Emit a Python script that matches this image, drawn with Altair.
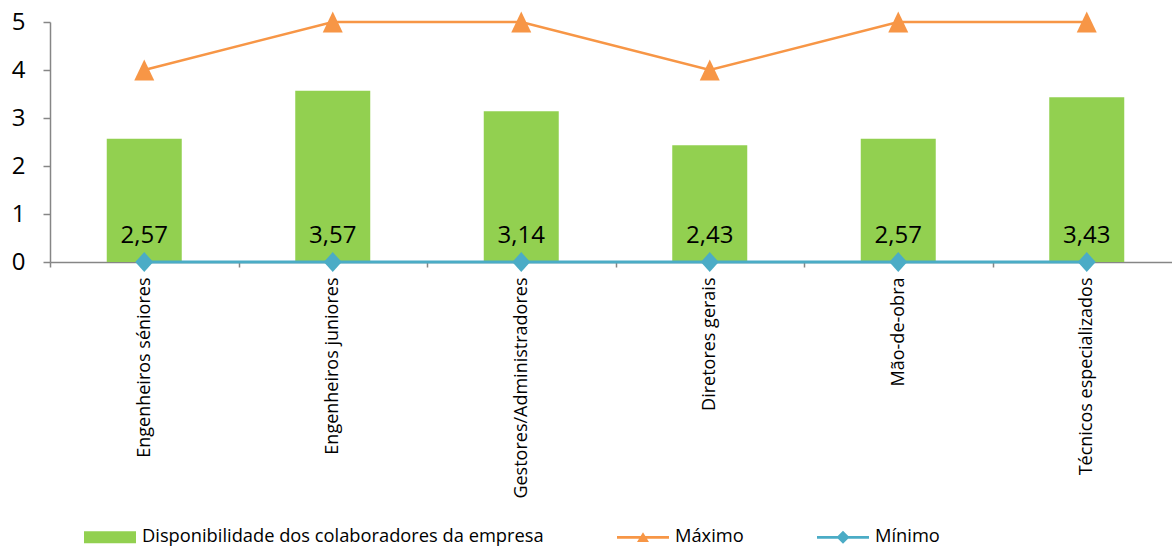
import altair as alt
import pandas as pd

categorias = ["Engenheiros séniores", "Engenheiros juniores", "Gestores/Administradores",
              "Diretores gerais", "Mão-de-obra", "Técnicos especializados"]
disponibilidade = [2.57, 3.57, 3.14, 2.43, 2.57, 3.43]
maximo = [4, 5, 5, 4, 5, 5]
minimo = [0, 0, 0, 0, 0, 0]
serie_nomes = ["Disponibilidade dos colaboradores da empresa", "Máximo", "Mínimo"]
serie_cores = ["#92D050", "#F79646", "#4BACC6"]
y_ticks = [0, 1, 2, 3, 4, 5]

FONT = "Open Sans"
GRAY = "#868686"

df_bar = pd.DataFrame({"cat": categorias, "valor": disponibilidade, "serie": serie_nomes[0]})
df_max = pd.DataFrame({"cat": categorias, "valor": maximo, "serie": serie_nomes[1]})
df_min = pd.DataFrame({"cat": categorias, "valor": minimo, "serie": serie_nomes[2]})

x_axis = alt.Axis(orient="bottom", title=None, labelAngle=270, tickBand="extent",
                  tickSize=5, tickColor=GRAY, tickWidth=1.5, domainColor=GRAY,
                  domainWidth=1.5, labelPadding=10, labelFontSize=18, labelFont=FONT,
                  labelColor="black", labelLimit=400, zindex=0)
x_scale = alt.Scale(range=[0, 1131], paddingInner=0, paddingOuter=0)
x_main = alt.X("cat:N", sort=categorias, scale=x_scale, axis=x_axis)

y_axis = alt.Axis(values=y_ticks, title=None, grid=False, tickSize=7, tickColor=GRAY,
                  tickWidth=1.5, domainColor=GRAY, domainWidth=1.5, labelFontSize=24,
                  labelFont=FONT, labelColor="black", labelPadding=18, zindex=0)
y_scale = alt.Scale(domain=[0, 5])
y_main = alt.Y("valor:Q", scale=y_scale, axis=y_axis)

sym_bar = "M-1,-0.23L1,-0.23L1,0.23L-1,0.23Z"
sym_max = "M-1,-0.055L1,-0.055L1,0.055L-1,0.055Z M-0.23,0.18L0,-0.2L0.23,0.18Z"
sym_min = "M-1,-0.055L1,-0.055L1,0.055L-1,0.055Z M-0.25,0L0,-0.25L0.25,0L0,0.25Z"
sym_expr = (f"datum.value == '{serie_nomes[1]}' ? '{sym_max}' : "
            f"datum.value == '{serie_nomes[2]}' ? '{sym_min}' : '{sym_bar}'")

legend = alt.Legend(title=None, orient="none", legendX=34, legendY=489,
                    direction="horizontal", columns=3, columnPadding=73,
                    padding=0, symbolType=alt.ExprRef(expr=sym_expr),
                    symbolSize=2704, symbolStrokeWidth=0, symbolOpacity=1,
                    labelFont=FONT, labelFontSize=18.3, labelColor="black",
                    labelOffset=6, labelLimit=1000)
color_main = alt.Color("serie:N", scale=alt.Scale(domain=serie_nomes, range=serie_cores),
                       legend=legend)

bars = alt.Chart(df_bar).mark_bar(size=75).encode(x=x_main, y=y_main, color=color_main)

labels = alt.Chart(df_bar).transform_calculate(
    txt="replace(format(datum.valor, '.2f'), '.', ',')"
).mark_text(font=FONT, fontSize=24, color="black", baseline="alphabetic", dy=-19).encode(
    x=x_main, y=alt.Y(datum=0, scale=y_scale, axis=y_axis), text="txt:N")

line_max = alt.Chart(df_max).mark_line(strokeWidth=2.5).encode(x=x_main, y=y_main, color=color_main)
line_min = alt.Chart(df_min).mark_line(strokeWidth=3).encode(x=x_main, y=y_main, color=color_main)

pts_max = alt.Chart(df_max).mark_point(shape="M0,-1.05L1,1.05L-1,1.05Z", filled=True, size=400,
                                       opacity=1).encode(x=x_main, y=y_main, color=color_main)
pts_min = alt.Chart(df_min).mark_point(shape="M0,-1.1L1,0L0,1.1L-1,0Z", filled=True, size=324,
                                       opacity=1).encode(x=x_main, y=y_main, color=color_main)

chart = alt.layer(bars, labels, line_max, line_min, pts_max, pts_min).properties(
    width=1122, height=240,
    autosize=alt.AutoSizeParams(type="none"),
    padding={"left": 50, "top": 22, "right": 0, "bottom": 285},
    background="white",
).configure_view(stroke=None)

chart.save("out.html", embed_options={"renderer": "svg", "actions": False})
